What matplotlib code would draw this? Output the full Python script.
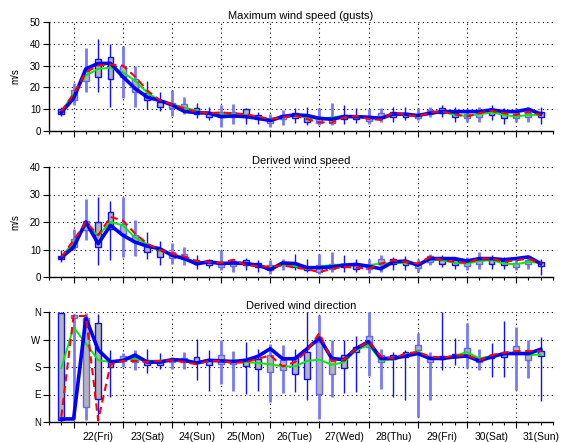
import matplotlib
matplotlib.use('Agg')
import matplotlib.pyplot as plt
import numpy as np

plt.rcParams['font.family'] = ['Liberation Sans', 'DejaVu Sans']

# valid times every 6 h from 21 18Z to 31 12Z, in days after 22 00Z
hours = np.arange(40) * 6 - 6
t = hours / 24.0

day_labels = ['22(Fri)', '23(Sat)', '24(Sun)', '25(Mon)', '26(Tue)',
              '27(Wed)', '28(Thu)', '29(Fri)', '30(Sat)', '31(Sun)']
dir_labels = ['N', 'E', 'S', 'W', 'N']

# maximum wind speed (gusts), m/s
gust_q25 = [8, 14, 23, 25, 24, 25, 18, 14, 11, 10.5, 9.6, 8, 6.6, 6.3, 6.5, 6.3, 5.5, 3.8, 5.5, 5.8,
            4.3, 3.5, 3.5, 5.5, 5.4, 4.8, 5.8, 6.6, 6.3, 5.8, 7.8, 8.2, 6.3, 5.8, 6.3, 7.4, 5.8, 5.8, 6.3, 6.6]
gust_q75 = [10, 19, 28, 33, 34, 30, 24, 17.5, 13.5, 12.7, 12.2, 10.4, 8.9, 8.5, 8.5, 10, 7.5, 5.8, 7.5, 8.2,
            6.6, 5.8, 5.8, 7.4, 6.9, 6.6, 8.2, 8.6, 8.2, 7.8, 9.7, 10.5, 8.2, 7.8, 8.5, 9.7, 8.2, 7.7, 8.2, 8.9]
gust_min = [7, 12, 18, 18, 11, 15, 11, 10, 9, 7, 8, 6, 5, 2, 3.2, 3.2, 3.2, 2, 2.7, 3.5,
            2.7, 2.7, 2.7, 3.2, 3.5, 3.2, 4.3, 4.3, 5, 5, 6.3, 6.6, 4.3, 4.3, 4.3, 5, 3.2, 4.3, 4.3, 3.2]
gust_max = [11, 22, 38, 42, 40, 39, 30, 23, 18, 19, 15.7, 13, 11, 12, 12.5, 10.5, 8.5, 8, 9.7, 10.5,
            11.2, 10.5, 12.8, 12, 10.5, 10, 10.5, 11.2, 10.8, 10.5, 10.8, 12, 11.2, 10, 11.2, 12, 10.5, 10.5, 10.8, 10.8]
gust_hres = [8.5, 15, 28.5, 31, 31, 25, 19.5, 15.5, 14, 12, 9, 8.4, 8.2, 6.6, 6.9, 6.6, 5.8, 4.8, 6.6, 7.4,
             7.1, 5.8, 5.4, 6.6, 6.6, 6.3, 5.8, 7.8, 7.7, 7.1, 8.2, 8.9, 8.9, 8.9, 8.9, 9.7, 8.9, 8.9, 10, 7.8]
gust_ctrl = [9, 17, 27, 30, 30.5, 30, 25, 18.5, 14.2, 12.2, 10.4, 8.8, 8.2, 8.5, 8.1, 7.7, 6.6, 5.5, 6.3, 7.1,
             5.4, 4.0, 3.8, 6.3, 6.9, 5.5, 5.1, 8.5, 7.4, 6.6, 8.6, 8.9, 7.7, 6.6, 8.2, 9.2, 8.2, 7.4, 8.9, 7.4]
gust_mean = [9, 17, 25.5, 28.5, 29, 27, 23, 17.5, 14, 12.3, 10.8, 9.3, 7.8, 7.7, 7.7, 7.4, 6.3, 5.4, 6.3, 6.9,
             6.3, 5.4, 6.3, 6.9, 6.6, 6.3, 6.3, 7.8, 7.4, 6.9, 8.2, 8.8, 7.4, 6.9, 7.7, 8.5, 7.4, 6.6, 7.4, 7.4]

# derived wind speed, m/s
wspd_q25 = [6.7, 11, 17, 10.9, 17.6, 15.8, 12.7, 9.1, 7.3, 7, 6.7, 4.6, 4.3, 3.7, 4, 4.3, 3.5, 2.4, 4.3, 3.7,
            2.4, 1.8, 3.0, 3.7, 2.8, 2.8, 4.9, 4.9, 4.3, 3.4, 5.5, 4.9, 4.3, 3.9, 4.9, 4.6, 4.3, 3.7, 4.6, 3.9]
wspd_q75 = [7.5, 14, 20.4, 20, 23.6, 19.4, 15.2, 11.5, 9.7, 9.1, 8.5, 6.3, 6.1, 5.5, 5.8, 6.1, 5, 4.3, 5.5, 5.1,
            3.7, 4.3, 4.6, 4.9, 4.3, 4.3, 6.7, 6.7, 5.8, 4.9, 7.6, 7.0, 6.1, 5.5, 6.7, 7.0, 5.8, 5.1, 6.3, 5.5]
wspd_min = [5.5, 9.7, 13.3, 4.2, 6.3, 7.3, 7.5, 6.7, 4.2, 4.6, 4.2, 3, 3.1, 2.4, 1.8, 2.4, 1.8, 1.2, 2.4, 2.4,
            1.8, 1.2, 1.8, 1.8, 1.8, 1.5, 1.8, 2.4, 2.4, 1.8, 4.3, 3.7, 3.0, 2.4, 3.0, 3.0, 3.0, 2.4, 3.0, 0.6]
wspd_max = [9.7, 17.6, 28.5, 29, 27.6, 29, 20.6, 16.4, 13.1, 12.4, 11, 7.9, 6.7, 9.8, 6.7, 7, 6.2, 6.1, 6.7, 8.5,
            6.7, 8.5, 9.1, 7.9, 6.7, 6.7, 7.9, 7.3, 7.6, 6.7, 8.5, 7.9, 7.3, 7.3, 9.1, 7.9, 7.3, 6.7, 7.3, 6.7]
wspd_hres = [7, 10.9, 20, 12.1, 18.8, 15.2, 12.7, 11.2, 10.3, 7.9, 6.7, 4.8, 5.5, 4.9, 5.1, 4.9, 4.3, 2.7, 5.1, 4.9,
             3.4, 3.4, 3.7, 4.3, 4.6, 3.9, 3.0, 5.5, 5.8, 4.3, 6.7, 6.7, 6.7, 5.8, 6.7, 6.7, 6.3, 6.7, 7.3, 4.9]
wspd_ctrl = [7.2, 13.3, 20, 15.2, 21.8, 20.6, 15.8, 12.1, 9.9, 8.5, 7.5, 5.8, 5.5, 5.1, 6.3, 4.3, 3.9, 3.7, 4.3, 3.4,
             2.8, 1.8, 3.0, 3.7, 3.4, 3.0, 4.9, 6.1, 5.5, 4.9, 7.3, 6.1, 5.5, 5.1, 6.7, 6.7, 5.5, 6.1, 6.7, 4.9]
wspd_mean = [7.2, 12.7, 18.8, 15, 20, 18.8, 14.3, 11.9, 9.7, 8.2, 7, 5.5, 5.5, 4.6, 5.1, 4.6, 4.3, 3.4, 4.3, 3.9,
             3.0, 3.9, 4.3, 4.6, 4.6, 4.3, 4.9, 5.1, 5.1, 4.6, 6.3, 6.1, 5.1, 4.9, 5.8, 6.1, 4.9, 4.6, 5.5, 5.1]

# derived wind direction, degrees
wdir_q25 = [7, 340, 49, 74, 181, 201, 195, 187, 188, 196, 198, 196, 185, 189, 191, 182, 175, 164, 169, 158,
            141, 91, 157, 176, 228, 246, 197, 205, 214, 236, 197, 205, 214, 219, 197, 208, 214, 230, 203, 216]
wdir_q75 = [356, 350, 340, 323, 200, 216, 212, 202, 198, 207, 210, 213, 204, 218, 204, 207, 207, 218, 204, 213,
            228, 263, 208, 219, 246, 281, 219, 219, 230, 252, 214, 216, 224, 241, 208, 219, 224, 249, 223, 233]
wdir_min = [0, 10, 5, 10, 82, 180, 170, 160, 175, 175, 175, 136, 103, 125, 103, 93, 103, 65, 95, 98,
            71, 11, 82, 95, 98, 150, 107, 83, 72, 17, 72, 170, 187, 176, 170, 146, 146, 105, 143, 70]
wdir_max = [360, 355, 358, 355, 236, 225, 235, 240, 226, 212, 228, 272, 237, 270, 234, 262, 240, 256, 251, 240,
            360, 349, 267, 267, 280, 360, 238, 230, 235, 290, 230, 360, 274, 323, 240, 260, 331, 310, 268, 279]
wdir_hres = [10, 10, 340, 236, 197, 201, 219, 196, 196, 204, 202, 193, 202, 200, 198, 202, 215, 240, 207, 207,
             240, 275, 208, 204, 241, 263, 208, 208, 216, 224, 208, 208, 213, 216, 200, 213, 224, 224, 224, 238]
wdir_ctrl = [17, 347, 347, 5, 188, 200, 200, 196, 200, 202, 196, 189, 200, 200, 193, 196, 207, 218, 182, 196,
             233, 291, 200, 204, 241, 263, 214, 208, 224, 229, 214, 211, 216, 219, 202, 219, 227, 232, 232, 232]
wdir_mean = [176, 310, 257, 203, 196, 205, 206, 200, 201, 202, 202, 196, 202, 200, 196, 196, 193, 189, 182, 182,
             200, 204, 187, 196, 235, 252, 202, 205, 219, 232, 208, 208, 216, 229, 208, 216, 221, 229, 219, 221]


def draw_panel(ax, q25, q75, vmin, vmax, hres, ctrl, mean):
    q25 = np.array(q25)
    q75 = np.array(q75)
    for k in range(len(t)):
        if hours[k] % 24 in (0, 6):
            wc, wl, ec = '#7878ff', 2.0, '#6464ff'
        else:
            wc, wl, ec = '#1010ff', 1.0, '#1010ee'
        ax.vlines(t[k], vmin[k], vmax[k], color=wc, lw=wl, zorder=2)
        ax.bar(t[k], q75[k] - q25[k], bottom=q25[k], width=0.12,
               color='#b4b4b4', edgecolor=ec, lw=1.0, zorder=3)
    ax.plot(t, mean, color='#00ee00', lw=1.4, zorder=4)
    ax.plot(t, hres, color='#0000ff', lw=2.6, zorder=5, solid_joinstyle='round')
    ax.plot(t, ctrl, color='#ff0000', lw=1.5, dashes=(3.5, 2.2), zorder=6)


def style_axis(ax, title):
    ax.set_xlim(-0.5, 9.75)
    ax.set_xticks(np.arange(0, 10))
    ax.set_xticks(np.arange(-0.5, 9.76, 0.25), minor=True)
    ax.tick_params(axis='x', which='major', length=4.5, width=0.8, labelbottom=False)
    ax.tick_params(axis='x', which='minor', length=2, width=0.8)
    ax.tick_params(axis='y', which='major', length=4, width=0.8, labelsize=7, pad=2)
    ax.grid(True, which='major', linestyle=(0, (1, 3)), color='black', lw=0.8)
    ax.set_axisbelow(True)
    for s in ['top', 'right']:
        ax.spines[s].set_visible(False)
    for s in ['left', 'bottom']:
        ax.spines[s].set_linewidth(1.0)
    ax.set_title(title, fontsize=8, pad=2)


fig = plt.figure(figsize=(5.7, 4.42), dpi=100)
left, width = 49 / 570, 504 / 570
ax1 = fig.add_axes([left, 1 - 131 / 442, width, 109 / 442])
ax2 = fig.add_axes([left, 1 - 277 / 442, width, 110 / 442])
ax3 = fig.add_axes([left, 1 - 422 / 442, width, 110 / 442])

draw_panel(ax1, gust_q25, gust_q75, gust_min, gust_max, gust_hres, gust_ctrl, gust_mean)
style_axis(ax1, 'Maximum wind speed (gusts)')
ax1.set_ylim(0, 50)
ax1.set_yticks(np.arange(0, 51, 10))
ax1.set_ylabel('m/s', fontsize=7)
ax1.yaxis.set_label_coords(-0.056, 0.5)

draw_panel(ax2, wspd_q25, wspd_q75, wspd_min, wspd_max, wspd_hres, wspd_ctrl, wspd_mean)
style_axis(ax2, 'Derived wind speed')
ax2.set_ylim(0, 40)
ax2.set_yticks(np.arange(0, 41, 10))
ax2.set_ylabel('m/s', fontsize=7)
ax2.yaxis.set_label_coords(-0.056, 0.5)

draw_panel(ax3, wdir_q25, wdir_q75, wdir_min, wdir_max, wdir_hres, wdir_ctrl, wdir_mean)
style_axis(ax3, 'Derived wind direction')
ax3.set_ylim(0, 360)
ax3.set_yticks([0, 90, 180, 270, 360], dir_labels)

# day names sit at noon, between the midnight grid lines
minor_pos = np.arange(-0.5, 9.76, 0.25)
minor_lab = []
for p in minor_pos:
    d = p - 0.5
    if abs(d - round(d)) < 1e-6 and 0 <= round(d) < len(day_labels):
        minor_lab.append(day_labels[int(round(d))])
    else:
        minor_lab.append('')
ax3.set_xticks(minor_pos, minor_lab, minor=True)
ax3.tick_params(axis='x', which='minor', labelsize=7.5, pad=5)

fig.savefig('out.png', dpi=100)
